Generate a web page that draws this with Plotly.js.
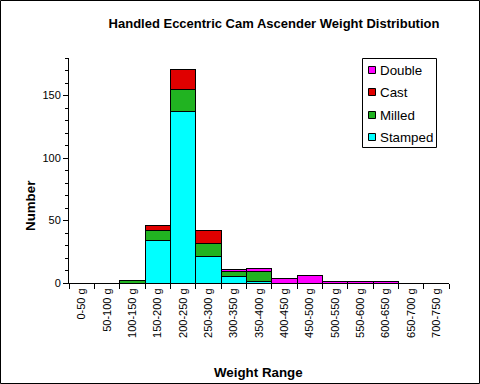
<!DOCTYPE html>
<html>
<head>
<meta charset="utf-8">
<script src="https://cdn.plot.ly/plotly-3.0.1.min.js"></script>
<style>html,body{margin:0;padding:0;background:#fff}#chart{width:480px;height:384px}</style>
</head>
<body>
<div id="chart"></div>
<script>
const categories = ["0-50 g","50-100 g","100-150 g","150-200 g","200-250 g","250-300 g","300-350 g","350-400 g","400-450 g","450-500 g","500-550 g","550-600 g","600-650 g","650-700 g","700-750 g"];
const stamped = [0,0,0,34,137,21,5,1,0,0,0,0,0,0,0];
const milled  = [0,0,2,8,18,11,4,8,0,0,0,0,0,0,0];
const cast    = [0,0,0,4,16,10,0,0,0,0,0,0,0,0,0];
const double_ = [0,0,0,0,0,0,2,3,4,6,1,1,1,0,0];

const seriesNames = ["Stamped","Milled","Cast","Double"];
const seriesColors = ["#00FFFF","#21B321","#E00000","#FF00FF"];
const seriesValues = [stamped, milled, cast, double_];

const traces = seriesValues.map((v,i)=>({
  type:"bar", name:seriesNames[i], x:categories, y:v,
  marker:{color:seriesColors[i], line:{color:"#000", width:1}},
  showlegend:false
}));

const L=69, R=449, T=58, B=283;
const W=R-L, H=B-T;
const px=(p)=>(p-L)/W, py=(p)=>(B-p)/H;
const FONT="Liberation Sans, Arial, sans-serif";

const annotations = [
  {text:"<b>Number</b>", xref:"paper", yref:"paper", x:px(30), y:py(206),
   showarrow:false, textangle:-90, font:{size:13.33}, xanchor:"center", yanchor:"middle"},
  {text:"<b>Weight Range</b>", xref:"paper", yref:"paper", x:px(258), y:py(372),
   showarrow:false, font:{size:13.33}, xanchor:"center", yanchor:"middle"}
];
const shapes = [
  {type:"rect", xref:"paper", yref:"paper", x0:px(0.5), x1:px(479.5), y0:py(383.5), y1:py(0.5),
   line:{color:"#000", width:1}, fillcolor:"rgba(0,0,0,0)", layer:"above"},
  {type:"rect", xref:"paper", yref:"paper", x0:px(362.5), x1:px(436.5), y0:py(147.5), y1:py(58.5),
   line:{color:"#000", width:1}, fillcolor:"#fff", layer:"above"}
];
// custom legend, top-to-bottom reversed order of stacking
const legendY = [70, 92, 115, 137];
for (let k=0;k<4;k++){
  const i = 3-k;
  const cy = legendY[k];
  shapes.push({type:"rect", xref:"paper", yref:"paper", x0:px(368.5), x1:px(375.5),
    y0:py(cy+3.5), y1:py(cy-3.5), line:{color:"#000", width:1}, fillcolor:seriesColors[i], layer:"above"});
  annotations.push({text:seriesNames[i], xref:"paper", yref:"paper", x:px(378), y:py(cy),
    xanchor:"left", yanchor:"middle", showarrow:false, font:{size:13.33}});
}

const layout = {
  width:480, height:384,
  margin:{l:L, r:480-R, t:T, b:384-B, pad:0},
  paper_bgcolor:"#fff", plot_bgcolor:"#fff",
  font:{family:FONT, size:11, color:"#000"},
  barmode:"stack", bargap:0,
  showlegend:false,
  title:{text:"<b>Handled Eccentric Cam Ascender Weight Distribution</b>",
    font:{size:13, family:FONT},
    x:274/480, xanchor:"center", y:1-23/384, yanchor:"middle"},
  xaxis:{type:"category", tickson:"boundaries", ticks:"outside", ticklen:5, tickcolor:"#000",
    showline:true, linecolor:"#000", linewidth:1, showgrid:false, zeroline:false,
    tickangle:-90, tickfont:{size:11}, range:[-0.5,14.5]},
  yaxis:{range:[0,180], dtick:50, ticks:"outside", ticklen:5, tickcolor:"#000",
    showline:true, linecolor:"#000", linewidth:1, showgrid:false, zeroline:false,
    tickfont:{size:11},
    minor:{dtick:10, ticks:"outside", ticklen:3, tickcolor:"#000", showgrid:false}},
  annotations:annotations,
  shapes:shapes
};
Plotly.newPlot("chart", traces, layout, {displayModeBar:false, staticPlot:true});
</script>
</body>
</html>
